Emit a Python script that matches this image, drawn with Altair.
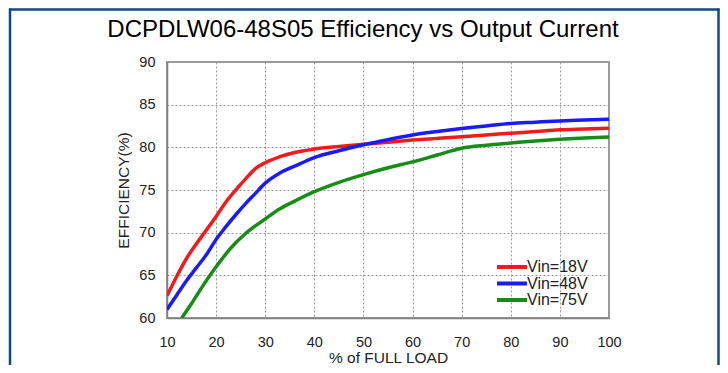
import altair as alt
import pandas as pd

title_text = "DCPDLW06-48S05 Efficiency vs Output Current"
series_names = ["Vin=18V", "Vin=48V", "Vin=75V"]
series_colors = ["#f21b1b", "#1b1bf5", "#178c17"]

load_18 = [10, 12, 14, 16, 18, 20, 22, 24, 26, 28, 30, 33, 36, 40, 45, 50, 55, 60, 65, 70, 75, 80, 85, 90, 95, 100]
eff_18 = [62.6, 64.9, 67.0, 68.7, 70.3, 71.9, 73.6, 75.0, 76.3, 77.5, 78.2, 78.9, 79.4, 79.8, 80.1, 80.35,
          80.6, 80.85, 81.05, 81.25, 81.45, 81.65, 81.85, 82.05, 82.15, 82.25]

load_48 = [10, 12, 14, 16, 18, 20, 22, 24, 26, 28, 30, 33, 36, 40, 45, 50, 55, 60, 65, 70, 75, 80, 85, 90, 95, 100]
eff_48 = [61.0, 62.7, 64.4, 65.9, 67.4, 69.2, 70.7, 72.1, 73.4, 74.6, 75.8, 77.0, 77.8, 78.8, 79.6, 80.3,
          80.9, 81.45, 81.85, 82.2, 82.5, 82.8, 82.95, 83.1, 83.2, 83.3]

load_75 = [13, 15, 17, 20, 23, 26, 30, 33, 36, 40, 45, 50, 55, 60, 65, 70, 75, 80, 85, 90, 95, 100]
eff_75 = [60.0, 61.7, 63.5, 66.0, 68.2, 69.9, 71.6, 72.8, 73.7, 74.8, 75.9, 76.8, 77.6, 78.3, 79.1, 79.9,
          80.25, 80.5, 80.75, 80.95, 81.1, 81.2]

x_ticks = [10, 20, 30, 40, 50, 60, 70, 80, 90, 100]
y_ticks = [60, 65, 70, 75, 80, 85, 90]

rows = []
for name, xs, ys in zip(series_names, [load_18, load_48, load_75], [eff_18, eff_48, eff_75]):
    for i, (a, b) in enumerate(zip(xs, ys)):
        rows.append({"series": name, "load": a, "eff": b, "idx": i})
df = pd.DataFrame(rows)

FONT = "Liberation Sans"
W, H = 442, 256

lines = alt.Chart(df).mark_line(strokeWidth=3.5, interpolate="monotone", clip=True).encode(
    x=alt.X("load:Q",
            scale=alt.Scale(domain=[10, 100], nice=False, zero=False),
            axis=alt.Axis(values=x_ticks, title="% of FULL LOAD", ticks=False, labelPadding=17,
                          labelFlush=False, titlePadding=2)),
    y=alt.Y("eff:Q",
            scale=alt.Scale(domain=[60, 90], nice=False, zero=False),
            axis=alt.Axis(values=y_ticks, title="EFFICIENCY(%)", ticks=False, labelPadding=12,
                          titlePadding=7)),
    color=alt.Color("series:N",
                    scale=alt.Scale(domain=series_names, range=series_colors),
                    legend=alt.Legend(title=None, orient="none", legendX=337, legendY=197,
                                      symbolType="M-3,0H3", symbolSize=100, symbolStrokeWidth=4,
                                      labelFontSize=16, labelColor="#222", rowPadding=0.5,
                                      labelOffset=7, padding=0)),
    order="idx:Q",
)

one = pd.DataFrame({"k": [0]})
border_color = "#0f4a80"
b_left = alt.Chart(one).mark_rule(color=border_color, strokeWidth=2.5).encode(
    x=alt.value(-157), y=alt.value(-53.5), y2=alt.value(330))
b_right = alt.Chart(one).mark_rule(color=border_color, strokeWidth=2.5).encode(
    x=alt.value(551.5), y=alt.value(-53.5), y2=alt.value(330))
b_top = alt.Chart(one).mark_rule(color=border_color, strokeWidth=2.5).encode(
    x=alt.value(-158), x2=alt.value(552.5), y=alt.value(-52.5))

chart = alt.layer(b_left, b_right, b_top, lines).properties(
    width=W, height=H,
    autosize=alt.AutoSizeParams(type="none"),
    padding={"left": 159, "top": 54, "right": 111, "bottom": 47},
    background="white",
    title=alt.Title(title_text, fontSize=24, font=FONT, color="#000", fontWeight="normal",
                    anchor="middle", frame="group", dx=-25, offset=-53.5, baseline="alphabetic"),
).configure_view(
    stroke="#9a9a9a", strokeWidth=2
).configure_axis(
    labelFont=FONT, titleFont=FONT, labelFontSize=14.5, titleFontSize=15.5,
    labelColor="#222", titleColor="#222", titleFontWeight="normal",
    domainColor="#808080", domainWidth=1.5,
    grid=True, gridColor="#9a9a9a", gridDash=[2, 2], gridWidth=1,
).configure_legend(
    labelFont=FONT
)

chart.save("out.html", embed_options={"renderer": "svg", "actions": False})
